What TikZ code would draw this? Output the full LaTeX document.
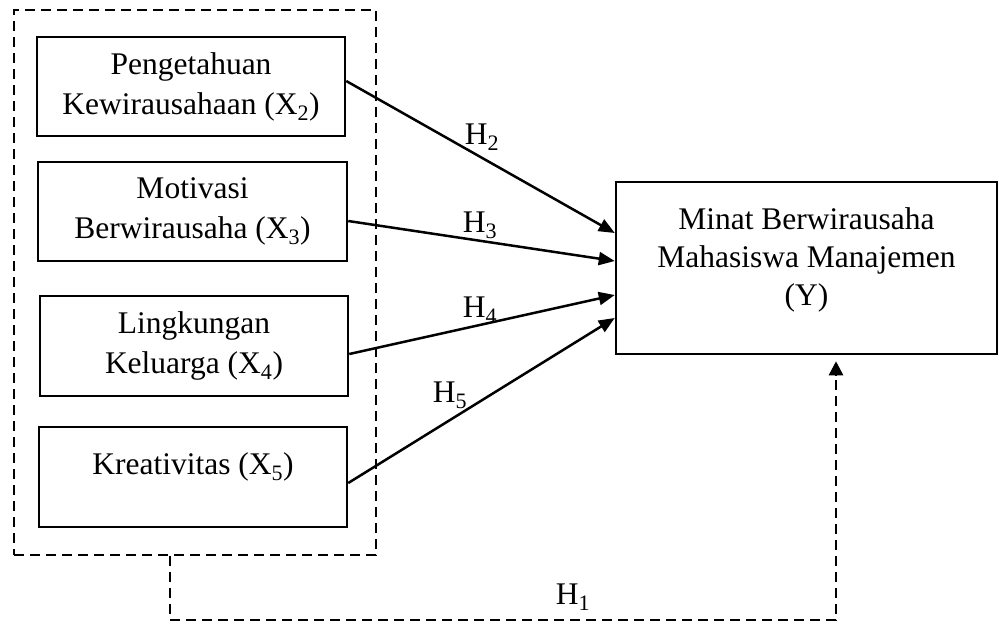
\documentclass[tikz,border=0pt]{standalone}
\usepackage{fontspec}
\setmainfont{Liberation Serif}
\usetikzlibrary{arrows.meta}
\begin{document}
\begin{tikzpicture}[x=1pt,y=-1pt,
  every node/.style={font=\fontsize{31.5}{40}\selectfont},
  varbox/.style={draw,line width=2.5pt,inner sep=0pt,align=center},
  grpbox/.style={draw,line width=2.5pt,inner sep=0pt,dash pattern=on 10pt off 6pt},
  hyp/.style={line width=2.5pt,-{Triangle[length=16pt,width=13pt]}},
  hypd/.style={line width=2.5pt,dash pattern=on 10pt off 6pt},
  hlab/.style={inner sep=0pt}]
\useasboundingbox (0,0) rectangle (999,625);
\node[grpbox,minimum width=362pt,minimum height=545pt] (grp) at (195,282.5) {};
\node[varbox,minimum width=308pt,minimum height=99pt] (b2) at (191,86.5)
  {Pengetahuan\\Kewirausahaan (X\textsubscript{2})};
\node[varbox,minimum width=309pt,minimum height=99pt] (b3) at (192.5,211.5)
  {Motivasi\\Berwirausaha (X\textsubscript{3})};
\node[varbox,minimum width=308pt,minimum height=100pt] (b4) at (194,346)
  {Lingkungan\\Keluarga (X\textsubscript{4})};
\node[varbox,minimum width=308pt,minimum height=100pt] (b5) at (193,477) {};
\node[inner sep=0pt] (t5) at (193,467) {Kreativitas (X\textsubscript{5})};
\node[varbox,minimum width=381pt,minimum height=172pt,
  font=\fontsize{31.5}{38}\selectfont] (Y) at (806.5,268) {};
\node[inner sep=0pt,align=center,font=\fontsize{31.5}{38}\selectfont] (tY) at (806.5,260)
  {Minat Berwirausaha\\Mahasiswa Manajemen\\(Y)};
\draw[hyp] ([yshift=5.5pt]b2.east) -- ([yshift=35pt]Y.west);
\draw[hyp] ([yshift=-9.5pt]b3.east) -- ([yshift=7pt]Y.west);
\draw[hyp] ([yshift=-8pt]b4.east) -- ([yshift=-27pt]Y.west);
\draw[hyp] ([yshift=-6pt]b5.east) -- ([yshift=-50pt]Y.west);
\node[hlab] (h2) at (482,137) {H\textsubscript{2}};
\node[hlab] (h3) at (480,225) {H\textsubscript{3}};
\node[hlab] (h4) at (480,310) {H\textsubscript{4}};
\node[hlab] (h5) at (450,395) {H\textsubscript{5}};
\coordinate (c1) at (170,620);
\coordinate (c2) at (836,620);
\draw[hypd] (grp.south -| c1) -- (c1) -- (c2) -- ([yshift=-20pt]c2 |- Y.south);
\draw[line width=2.5pt,-{Triangle[length=14pt,width=14pt]}] ([yshift=-20pt]c2 |- Y.south) -- ([yshift=-6pt]c2 |- Y.south);
\node[hlab] (h1) at (573,597) {H\textsubscript{1}};
\end{tikzpicture}
\end{document}
